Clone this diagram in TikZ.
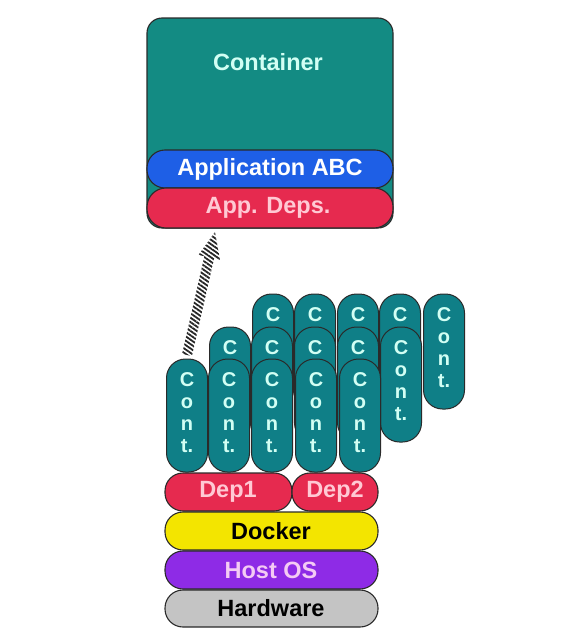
\documentclass[tikz,border=0pt]{standalone}
\usepackage{fontspec}
\setmainfont{Liberation Sans}
\usetikzlibrary{patterns.meta}
\definecolor{boxteal}{HTML}{138B83}
\definecolor{pillteal}{HTML}{0F7F87}
\definecolor{txtcyan}{HTML}{D2FFF4}
\definecolor{appblue}{HTML}{1E5FE6}
\definecolor{depred}{HTML}{E62A4F}
\definecolor{txtpink}{HTML}{FFC9D4}
\definecolor{dockyellow}{HTML}{F3E500}
\definecolor{hostpurple}{HTML}{8E2BE6}
\definecolor{txtlilac}{HTML}{F4CBF4}
\definecolor{hwgray}{HTML}{C4C4C4}
\definecolor{edge}{HTML}{2A2A2A}
\tikzset{
  bigtext/.style={font=\fontsize{23.5}{25}\selectfont\bfseries},
  layer/.style={draw=edge, line width=1.1pt, rounded corners=18pt},
  contpill/.style={draw=edge, line width=1pt, fill=pillteal, rounded corners=19pt,
    minimum width=41pt, inner sep=0pt},
  conttext/.style={font=\fontsize{20}{22}\selectfont\bfseries, text=txtcyan, anchor=base, inner sep=0pt},
}
% #1 name, #2 x, #3 top, #4 bottom, #5 visible letters
\newcommand{\contpill}[5]{%
  \node[contpill, minimum height={#4-#3}] (#1) at (#2,{-(#3+#4)/2}) {};
  \foreach \L [count=\i] in {#5}
    \node[conttext] (#1l\i) at (#2,{-(#3+22*\i+5)}) {\L};
}
\begin{document}
\begin{tikzpicture}[x=1pt,y=1pt]
\useasboundingbox (0,0) rectangle (588,-637);
% container
\draw[draw=edge, line width=1.1pt, fill=boxteal, rounded corners=15pt] (147,-18) rectangle (393,-228);
\node[bigtext, text=txtcyan] (ctitle) at (268,-62) {Container};
\draw[layer, fill=appblue] (147,-150) rectangle (393,-188);
\node[bigtext, text=white] (app) at (270,-169) {Application ABC};
\draw[layer, fill=depred, rounded corners=19pt] (147,-188) rectangle (393,-228);
\node[bigtext, text=txtpink] (appdeps) at (268,-208) {App. Deps.};
% hatched arrow
\path[pattern={Lines[angle=-35,distance=3.6pt,line width=1.8pt]}, pattern color=black!85]
  (191.88,-356.11) -- (214.11,-258.46) -- (219.96,-259.79) -- (215,-232)
  -- (198.50,-254.91) -- (204.35,-256.24) -- (182.12,-353.89) -- cycle;
% back row
\contpill{b1}{273}{294}{409}{C}
\contpill{b2}{315}{294}{409}{C}
\contpill{b3}{358}{294}{409}{C}
\contpill{b4}{400}{294}{409}{C}
\contpill{b5}{444}{294}{409}{C,o,n,t.}
% middle row
\contpill{m1}{230}{327}{442}{C}
\contpill{m2}{272}{327}{442}{C}
\contpill{m3}{315}{327}{442}{C}
\contpill{m4}{358}{327}{442}{C}
\contpill{m5}{401}{327}{442}{C,o,n,t.}
% front row
\contpill{f1}{187}{359}{472}{C,o,n,t.}
\contpill{f2}{229}{359}{472}{C,o,n,t.}
\contpill{f3}{272}{359}{472}{C,o,n,t.}
\contpill{f4}{316}{359}{472}{C,o,n,t.}
\contpill{f5}{360}{359}{472}{C,o,n,t.}
% stack
\draw[layer, fill=depred] (165,-473) rectangle (292,-511);
\node[bigtext, text=txtpink] (dep1) at (228,-492) {Dep1};
\draw[layer, fill=depred] (292,-473) rectangle (378,-511);
\node[bigtext, text=txtpink] (dep2) at (335,-492) {Dep2};
\draw[layer, fill=dockyellow] (165,-512) rectangle (378,-550);
\node[bigtext, text=black] (docker) at (271,-531) {Docker};
\draw[layer, fill=hostpurple] (165,-551) rectangle (378,-589);
\node[bigtext, text=txtlilac] (host) at (271,-570) {Host OS};
\draw[layer, fill=hwgray] (165,-590) rectangle (378,-627);
\node[bigtext, text=black] (hw) at (271,-608) {Hardware};
\end{tikzpicture}
\end{document}
